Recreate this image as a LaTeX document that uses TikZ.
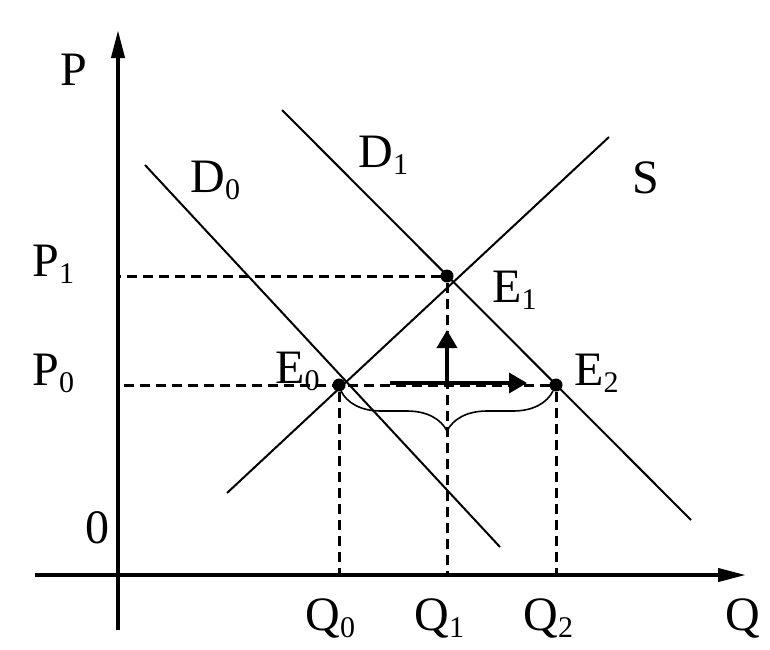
\documentclass[tikz,border=0pt]{standalone}
\usepackage{fontspec}
\setmainfont{Liberation Serif}
\usetikzlibrary{arrows.meta,decorations.pathreplacing}
\newcommand{\lowidx}[1]{\raisebox{-3.5pt}{\fontsize{15}{15}\selectfont #1}}
\begin{document}
\begin{tikzpicture}[
  x = 0.5pt,
  y = -0.5pt,
  dot/.style = {
    shape = circle,
    fill = black,
    minimum size = 6.5pt,
    inner sep = 0pt,
    outer sep = 0pt,
  },
  lbl/.style = {
    anchor = base west,
    inner sep = 0pt,
    font = \fontsize{24}{28}\selectfont
  },
  axis/.style = {
    line width = 2pt,
    -{Triangle[length = 14pt, width = 6.5pt]}
  },
  curve/.style = {
    line width = 1pt
  },
  guide/.style = {
    line width = 1.5pt,
    dash pattern = on 5pt off 3pt
  },
  move/.style = {
    line width = 1.8pt,
    -{Triangle[length = 9pt, width = 10pt]}
  }
]
  \useasboundingbox (0, 0) rectangle (770, 649);

  % axes
  \coordinate (O) at (118, 575);
  \coordinate (Ptop) at (118, 30);
  \coordinate (Pbot) at (118, 630);
  \coordinate (Qleft) at (35, 575);
  \coordinate (Qright) at (746, 575);
  \draw[axis] (Pbot) -- (Ptop);
  \draw[axis] (Qleft) -- (Qright);

  % demand and supply
  \coordinate (D0a) at (145, 165);
  \coordinate (D0b) at (500, 547);
  \coordinate (D1a) at (282, 110);
  \coordinate (D1b) at (691, 520);
  \coordinate (Sa) at (227, 493);
  \coordinate (Sb) at (609, 137);
  \draw[curve] (D0a) -- (D0b);
  \draw[curve] (D1a) -- (D1b);
  \draw[curve] (Sa) -- (Sb);

  % equilibria
  \draw node[dot] (E0) at (339, 385) {};
  \draw node[dot] (E1) at (447, 276) {};
  \draw node[dot] (E2) at (556, 385) {};

  \draw[guide] (E1) -- (E1 -| O);
  \draw[guide] (E2) -- (E2 -| O);
  \draw[guide] (E0) -- (E0 |- O);
  \draw[guide] (E1) -- (E1 |- O);
  \draw[guide] (E2) -- (E2 |- O);

  % shifts
  \coordinate (A0) at (447, 383);
  \coordinate (Aup) at (447, 330);
  \coordinate (H0) at (390, 383);
  \coordinate (Hr) at (527, 383);
  \draw[move] (A0) -- (Aup);
  \draw[move] (H0) -- (Hr);

  \coordinate (B0) at (341, 391);
  \coordinate (B2) at (553, 391);
  \draw[line width = 0.8pt, decorate,
    decoration = {brace, mirror, amplitude = 20pt}] (B0) -- (B2);

  % labels
  \node[lbl] (LP) at (60, 85) {P};
  \node[lbl] (LQ) at (725, 630) {Q};
  \node[lbl] (L0) at (85, 543) {0};
  \node[lbl] (LP1) at (32, 276) {P\lowidx{1}};
  \node[lbl] (LP0) at (32, 385) {P\lowidx{0}};
  \node[lbl] (LD0) at (190, 192) {D\lowidx{0}};
  \node[lbl] (LD1) at (358, 167) {D\lowidx{1}};
  \node[lbl] (LS) at (632, 193) {S};
  \node[lbl] (LE0) at (275, 383) {E\lowidx{0}};
  \node[lbl] (LE1) at (492, 302) {E\lowidx{1}};
  \node[lbl] (LE2) at (574, 385) {E\lowidx{2}};
  \node[lbl] (LQ0) at (305, 630) {Q\lowidx{0}};
  \node[lbl] (LQ1) at (414, 630) {Q\lowidx{1}};
  \node[lbl] (LQ2) at (523, 630) {Q\lowidx{2}};
\end{tikzpicture}
\end{document}
